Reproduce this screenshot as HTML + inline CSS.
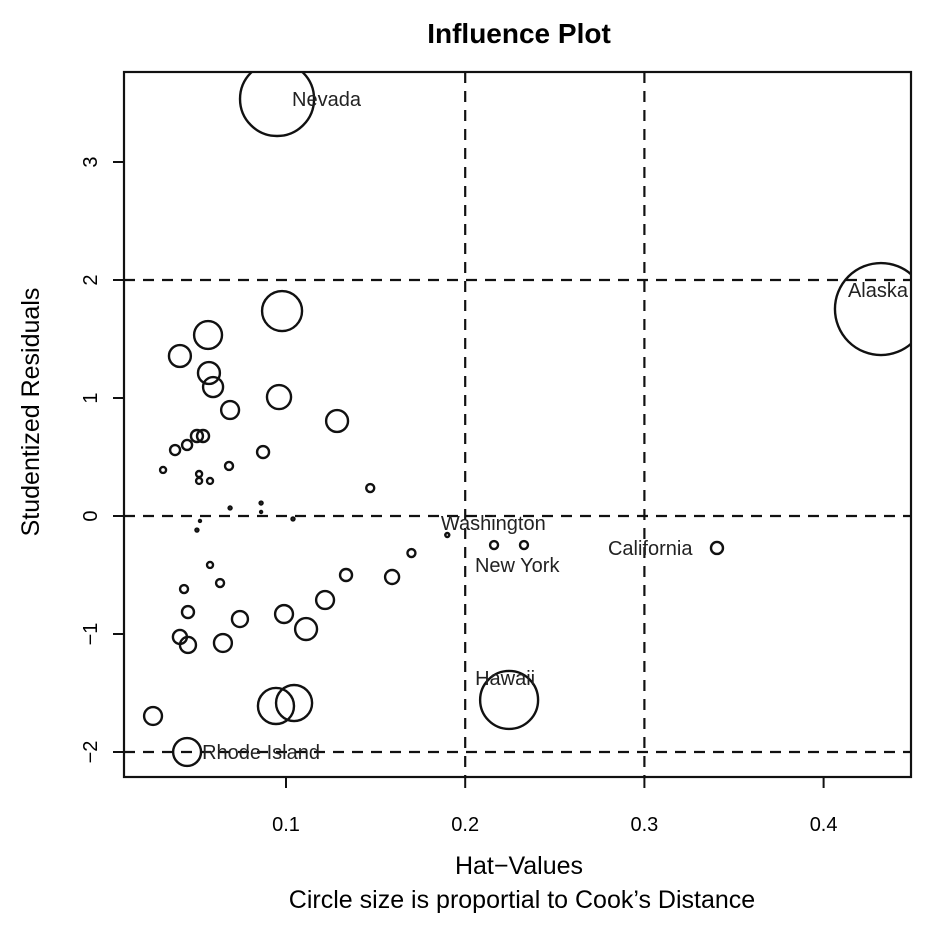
<!DOCTYPE html>
<html><head><meta charset="utf-8"><style>
html,body{margin:0;padding:0;background:#fff;}
svg{display:block;font-family:"Liberation Sans",sans-serif;}
</style></head><body>
<svg id="chart" width="938" height="926" viewBox="0 0 938 926" xmlns="http://www.w3.org/2000/svg">
<defs><clipPath id="plotclip"><rect x="124" y="72" width="787" height="705"/></clipPath></defs>
<text x="519" y="43" text-anchor="middle" font-size="28" font-weight="bold">Influence Plot</text>
<text x="519" y="874" text-anchor="middle" font-size="25">Hat−Values</text>
<text x="522" y="908" text-anchor="middle" font-size="25">Circle size is proportial to Cook’s Distance</text>
<text transform="translate(39,412) rotate(-90)" text-anchor="middle" font-size="25">Studentized Residuals</text>
<g id="grid"></g><g id="marks" clip-path="url(#plotclip)"></g><g id="axes"></g>
<rect x="124" y="72" width="787" height="705" fill="none" stroke="#111" stroke-width="2.2"/>
</svg>
<script>
const hatValues = [0.0950,0.432,0.0978,0.0565,0.0408,0.0570,0.0593,0.0961,0.0688,0.1285,0.0503,0.0537,0.0448,0.0381,0.0872,0.0314,0.0682,0.0515,0.0515,0.0576,0.147,0.0688,0.0861,0.0861,0.052,0.0503,0.1039,0.170,0.0576,0.0632,0.0431,0.1335,0.1592,0.1218,0.0453,0.0743,0.0989,0.1112,0.0408,0.0453,0.0648,0.0258,0.0944,0.1045,0.0448,0.190,0.2161,0.2328,0.3405,0.2245];
const studResid = [3.534,1.754,1.737,1.534,1.356,1.212,1.093,1.008,0.898,0.805,0.678,0.678,0.602,0.559,0.542,0.390,0.424,0.356,0.297,0.297,0.237,0.068,0.110,0.034,-0.042,-0.119,-0.025,-0.314,-0.415,-0.568,-0.619,-0.500,-0.517,-0.712,-0.814,-0.873,-0.831,-0.958,-1.025,-1.093,-1.076,-1.695,-1.610,-1.585,-2.0,-0.161,-0.246,-0.246,-0.271,-1.559];
const cookD = [0.548,0.846,0.16,0.078,0.048,0.048,0.04,0.058,0.032,0.048,0.0144,0.0144,0.01,0.01,0.0144,0.0036,0.0064,0.0036,0.0036,0.0036,0.0064,0.0009,0.0009,0.0004,0.0004,0.0009,0.0009,0.0064,0.0036,0.0064,0.0064,0.0144,0.0196,0.032,0.0144,0.0256,0.032,0.048,0.0196,0.0256,0.032,0.032,0.13,0.13,0.078,0.0016,0.0064,0.0064,0.0144,0.336];
const pointLabels = {0:"Nevada",1:"Alaska",44:"Rhode Island",45:"Washington",47:"New York",48:"California",49:"Hawaii"};
const xTicks = [0.1,0.2,0.3,0.4];
const xTickLabels = ["0.1","0.2","0.3","0.4"];
const yTicks = [-2,-1,0,1,2,3];
const yTickLabels = ["−2","−1","0","1","2","3"];
const hLines = [-2,0,2];
const vLines = [0.2,0.3];

const NS="http://www.w3.org/2000/svg";
const xS = v => 106.8 + v*1792;
const yS = v => 516 - v*118;
const rS = c => 50*Math.sqrt(c);
function mk(tag, attrs, parent){const e=document.createElementNS(NS,tag);for(const k in attrs)e.setAttribute(k,attrs[k]);parent.appendChild(e);return e;}
const grid=document.getElementById('grid'), marks=document.getElementById('marks'), axes=document.getElementById('axes');
const dash={stroke:"#111","stroke-width":2.2,"stroke-dasharray":"11,8",fill:"none"};
hLines.forEach(v=>{const l=mk('line',Object.assign({x1:124,x2:911,y1:yS(v),y2:yS(v)},dash),grid);

});
vLines.forEach(v=>{const l=mk('line',Object.assign({x1:xS(v),x2:xS(v),y1:72,y2:777},dash),grid);

});
hatValues.forEach((h,i)=>{const c=mk('circle',{cx:xS(h),cy:yS(studResid[i]),r:Math.max(rS(cookD[i]),1),fill:"none",stroke:"#111","stroke-width":2.4},marks);

});
const labelPos={0:[15,0,"start"],1:[-33,-19,"start"],44:[15,0,"start"],45:[46,-12,"middle"],47:[-49,20,"start"],48:[-109,0,"start"],49:[-34,-22,"start"]};
for(const k in pointLabels){const p=labelPos[k];const t=mk('text',{x:xS(hatValues[k])+p[0],y:yS(studResid[k])+p[1]+7,"font-size":20,"text-anchor":p[2],fill:"#222"},marks);
t.textContent=pointLabels[k];

}
xTicks.forEach((v,i)=>{const l=mk('line',{x1:xS(v),x2:xS(v),y1:777,y2:788,stroke:"#111","stroke-width":2},axes);


const t=mk('text',{x:xS(v),y:831,"text-anchor":"middle","font-size":20},axes);t.textContent=xTickLabels[i];

});
yTicks.forEach((v,i)=>{const l=mk('line',{x1:113,x2:124,y1:yS(v),y2:yS(v),stroke:"#111","stroke-width":2},axes);


const t=mk('text',{transform:`translate(97,${yS(v)}) rotate(-90)`,"text-anchor":"middle","font-size":20},axes);t.textContent=yTickLabels[i];

});
</script>
</body></html>
